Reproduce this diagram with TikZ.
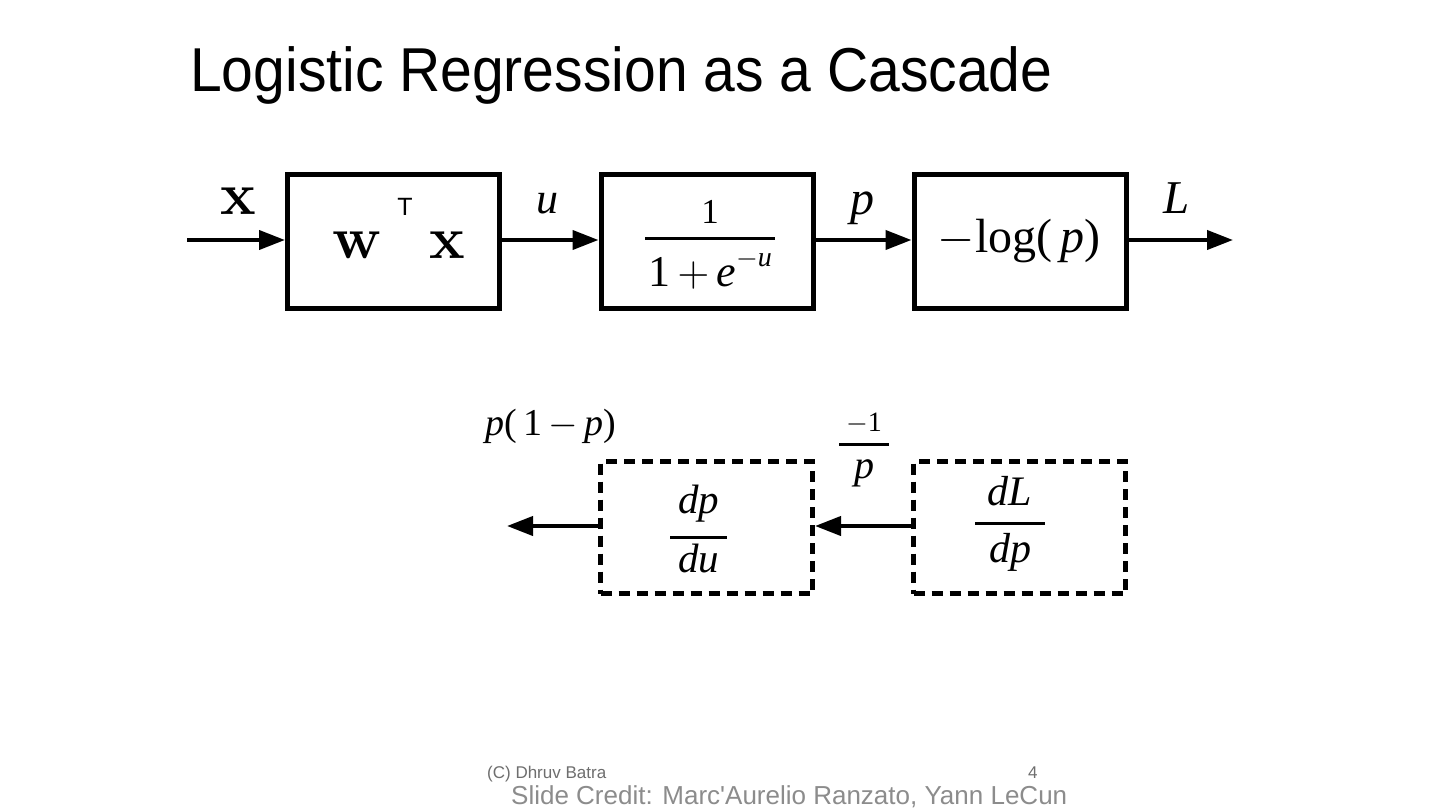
\RequirePackage{fix-cm}
\documentclass[tikz,border=0pt]{standalone}
\usepackage{amsmath}
\usepackage{fontspec}
\usepackage{graphicx}
\setmainfont{Liberation Serif}
\newfontfamily\sansfont{Liberation Sans}
\usetikzlibrary{arrows.meta}
\newcommand{\cmbx}[1]{{\fontsize{60}{60}\usefont{OT1}{cmr}{bx}{n}#1}}
\newcommand{\fsz}[1]{\fontsize{#1}{#1}\selectfont}
% num, den, bar width, gap above bar, gap below bar
\newcommand{\ffrac}[5]{\vbox{\offinterlineskip\halign{\hfil##\hfil\cr#1\cr\noalign{\kern#4}\rule{#3}{3pt}\cr\noalign{\kern#5}#2\cr}}}
\definecolor{footgray}{RGB}{110,110,110}
\definecolor{creditgray}{RGB}{140,140,140}
\begin{document}
\begin{tikzpicture}[x=1pt,y=-1pt,
  box/.style={draw,line width=5pt,minimum width=212pt,minimum height=134pt,inner sep=0pt},
  dbox/.style={draw,line width=5pt,dash pattern=on 11pt off 7pt,minimum width=212pt,minimum height=132pt,inner sep=0pt},
  arr/.style={line width=4pt,-{Triangle[length=26pt,width=19pt]}},
  lbl/.style={inner sep=0pt},
  ]
\useasboundingbox (0,0) rectangle (1440,810);
\fill[white] (0,0) rectangle (1440,810);
% title
\node[lbl,anchor=base west] (title) at (190,92) {\scalebox{0.92}[1]{\sansfont\fsz{62}Logistic Regression as a Cascade}};
% forward boxes
\node[box] (b1) at (393.5,241.5) {};
\node[box] (b2) at (707,241.5) {};
\node[box] (b3) at (1020,241.5) {};
\coordinate (in) at (187,240);
\coordinate (out) at (1233,240);
\draw[arr] (in) -- (b1.west |- in);
\draw[arr] (b1.east |- in) -- (b2.west |- in);
\draw[arr] (b2.east |- in) -- (b3.west |- in);
\draw[arr] (b3.east |- in) -- (out);
% labels
\node[lbl] (xin) at (238,201) {\cmbx{x}};
\node[lbl,anchor=base] (wx) at (399,259) {\cmbx{w}\hspace{16pt}\raisebox{43pt}{\sansfont\fsz{25}T}\hspace{17pt}\cmbx{x}};
\node[lbl] (u) at (547,204) {\fsz{44}\textit{u}};
\node[lbl] (sig) at (710,245) {\ffrac{\fsz{35}1}{\fsz{44}1\,$+$\,\textit{e}\raisebox{20pt}{\fsz{28}$-$\textit{u}}}{130pt}{14pt}{10pt}};
\node[lbl] (p) at (862,208) {\fsz{48}\textit{p}};
\node[lbl] (nlog) at (1019,241) {\fsz{48}$-$log(\,\textit{p})};
\node[lbl] (L) at (1177,198) {\fsz{47}\textit{L}};
% backward boxes
\node[dbox] (d1) at (706.5,527.5) {};
\node[dbox] (d2) at (1019.5,527.5) {};
\coordinate (bout) at (507,526);
\draw[arr] (d2.west |- bout) -- (d1.east |- bout);
\draw[arr] (d1.west |- bout) -- (bout);
\node[lbl] (dpdu) at (698.5,529) {\ffrac{\fsz{41}\textit{dp}}{\fsz{41}\textit{du}}{57pt}{13pt}{5pt}};
\node[lbl] (dLdp) at (1010,524) {\ffrac{\fsz{42}\textit{dL}}{\fsz{42}\textit{dp}}{70pt}{16pt}{9pt}};
\node[lbl] (g1) at (551,426) {\fsz{38}\textit{p}(\,1\,$-$\,\textit{p})};
\node[lbl] (g2) at (864,450) {\ffrac{\fsz{28}$-$1}{\fsz{40}\textit{p}}{50pt}{9pt}{13pt}};
% footer
\node[lbl,anchor=base west,text=footgray] (foot) at (487,778) {\sansfont\fsz{17}(C) Dhruv Batra};
\node[lbl,anchor=base west,text=footgray] (pg) at (1028,778) {\sansfont\fsz{17}4};
\node[lbl,anchor=base west,text=creditgray] (credit) at (511,804) {\sansfont\fsz{26}Slide Credit: Marc'Aurelio Ranzato, Yann LeCun};
\end{tikzpicture}
\end{document}
